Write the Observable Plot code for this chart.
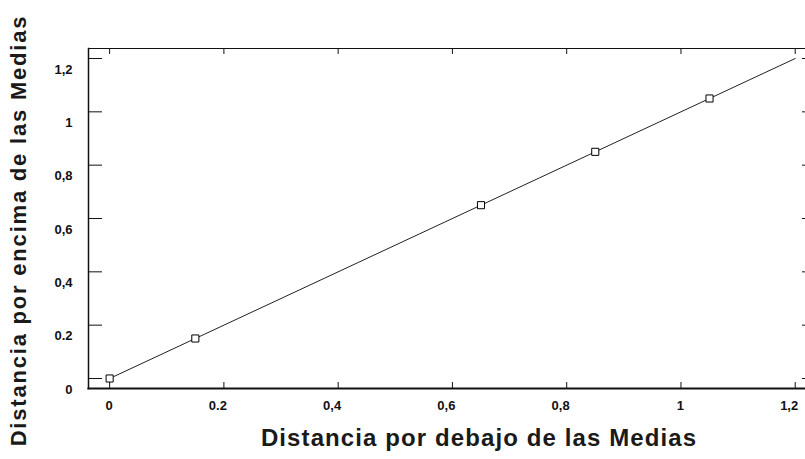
<!DOCTYPE html>
<html><head><meta charset="utf-8">
<script src="https://cdn.jsdelivr.net/npm/d3@7"></script>
<script src="https://cdn.jsdelivr.net/npm/@observablehq/plot@0.6"></script>
<style>body{margin:0;background:#fff}</style>
</head><body><div id="chart"></div>
<script>
const xValues = [0, 0.15, 0.65, 0.85, 1.05];
const yValues = [0, 0.15, 0.65, 0.85, 1.05];
const fitX = [0, 1.2];
const fitY = [0, 1.2];
const tickValues = [0, 0.2, 0.4, 0.6, 0.8, 1, 1.2];
const xTickLabels = ["0", "0.2", "0,4", "0,6", "0,8", "1", "1,2"];
const yTickLabels = ["0", "0.2", "0,4", "0,6", "0,8", "1", "1,2"];
const xTitle = "Distancia por debajo de las Medias";
const yTitle = "Distancia por encima de las Medias";

const points = xValues.map((x, i) => ({x, y: yValues[i]}));
const fit = fitX.map((x, i) => ({x, y: fitY[i]}));
const fmt = labels => d => labels[tickValues.findIndex(t => Math.abs(t - d) < 1e-9)];
const blank = () => "";

const chart = Plot.plot({
  width: 805, height: 459,
  marginLeft: 88, marginRight: 0, marginTop: 48, marginBottom: 71,
  style: {fontFamily: "'Liberation Sans', Arial, sans-serif", fontSize: "13px", fontWeight: "bold", color: "#111", background: "#fff"},
  x: {domain: [-0.037, 1.218]},
  y: {domain: [-0.0375, 1.2375]},
  marks: [
    Plot.axisX({anchor: "bottom", ticks: tickValues, tickSize: -6, tickFormat: blank, label: null}),
    Plot.axisX({anchor: "top", ticks: tickValues, tickSize: -5, tickFormat: blank, label: null}),
    Plot.axisY({anchor: "left", ticks: tickValues, tickSize: -14, tickFormat: blank, label: null}),
    Plot.axisY({anchor: "right", ticks: tickValues, tickSize: -4, tickFormat: blank, label: null}),
    Plot.axisY({anchor: "left", ticks: tickValues, tickSize: 0, tickPadding: 16, dy: 11, fontSize: 13, tickFormat: fmt(yTickLabels), label: null}),
    Plot.axisX({anchor: "bottom", ticks: tickValues, tickSize: 0, tickPadding: 12, textAnchor: "end", dx: 3, fontSize: 13, tickFormat: fmt(xTickLabels), label: null}),
    Plot.frame({anchor: "left", strokeWidth: 1.5}),
    Plot.frame({anchor: "bottom", strokeWidth: 2.2}),
    Plot.frame({anchor: "top", strokeWidth: 1}),
    Plot.line(fit, {x: "x", y: "y", stroke: "#222", strokeWidth: 1}),
    Plot.dot(points, {x: "x", y: "y", symbol: "square", r: 4, stroke: "#000", fill: "#fff", strokeWidth: 1}),
    Plot.text([xTitle], {text: d => d, frameAnchor: "bottom", dy: 57, dx: 32, fontSize: 24, fontWeight: "bold", fill: "#1a1a1a"}),
    Plot.text([yTitle], {text: d => d, frameAnchor: "left", textAnchor: "middle", rotate: -90, dx: -70, dy: 12, fontSize: 22, fontWeight: "bold", fill: "#1a1a1a"})
  ]
});
d3.select(chart).selectAll("text").filter(function() { return this.textContent === xTitle; }).style("letter-spacing", "1.1px");
d3.select(chart).selectAll("text").filter(function() { return this.textContent === yTitle; }).style("letter-spacing", "1.8px");
document.getElementById("chart").appendChild(chart);
</script>
</body></html>
